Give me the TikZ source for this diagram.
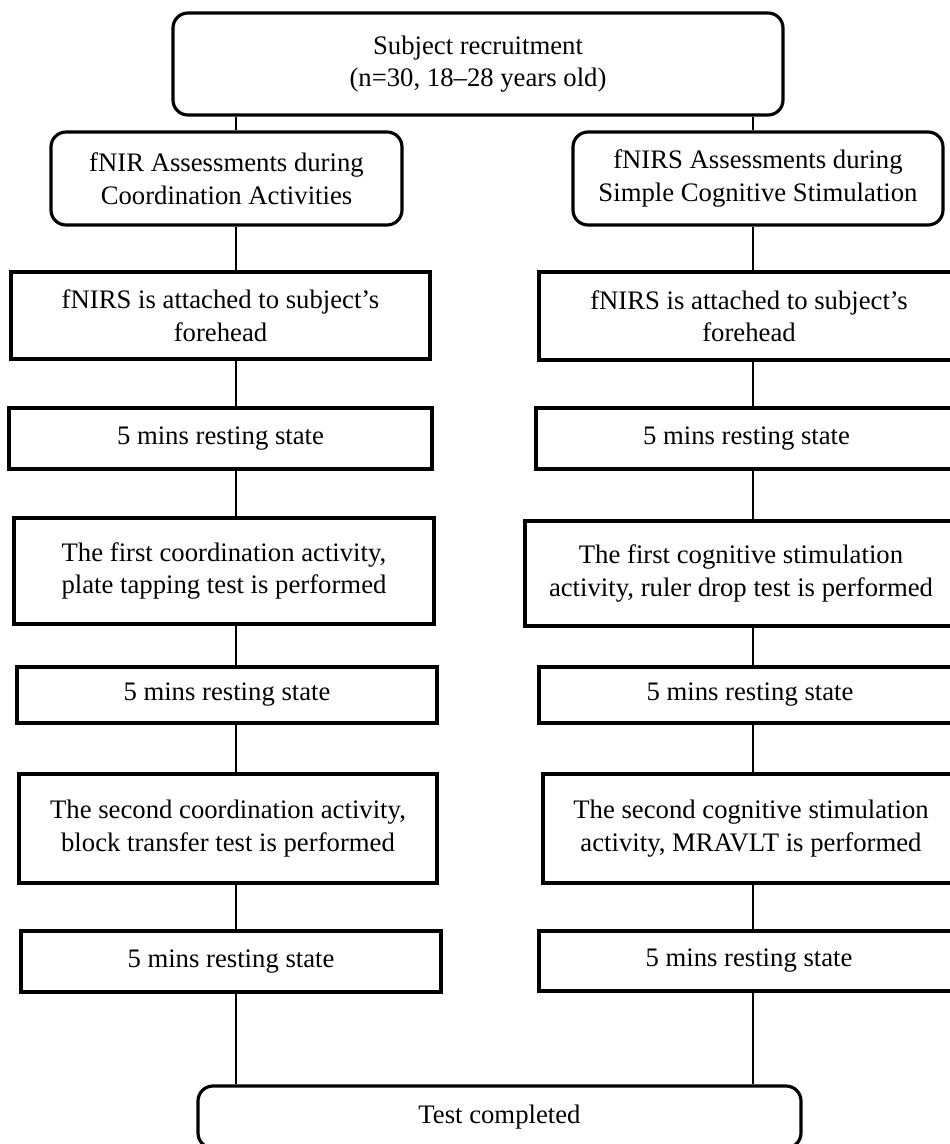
\documentclass[tikz,border=0pt]{standalone}
\usepackage{fontspec}
\setmainfont{Liberation Serif}
\usepackage{tikz}
\usetikzlibrary{positioning,calc}

\begin{document}
\begin{tikzpicture}[
  lnk/.style={line width=1.2pt},
  head/.style={rectangle,draw,line width=1.8pt,rounded corners=0.3cm,align=center,inner sep=0pt,
    font=\fontsize{15.2}{18.5}\selectfont},
  stepbox/.style={rectangle,draw,line width=1.8pt,align=center,inner sep=0pt,
    font=\fontsize{15.2}{18.5}\selectfont}
]
\useasboundingbox (0,0) rectangle (18.98,-22.88);
% column lines
\coordinate (colL) at (4.72,0);
\coordinate (colR) at (15.06,0);
% recruitment
\node[head,minimum width=12.2cm,minimum height=2.04cm] (top) at (9.56,-1.28)
  {Subject recruitment\\(n=30, 18–28 years old)};
% two assessments
\node[head,minimum width=7.02cm,minimum height=1.86cm] (L2) at (4.53,-3.57)
  {fNIR Assessments during\\Coordination Activities};
\node[head,minimum width=7.40cm,minimum height=1.86cm] (R2) at (15.16,-3.57)
  {fNIRS Assessments during\\Simple Cognitive Stimulation};
% left branch: coordination
\node[stepbox,minimum width=8.38cm,minimum height=1.74cm] (L3) at (4.41,-6.31)
  {fNIRS is attached to subject’s\\forehead};
\node[stepbox,minimum width=8.46cm,minimum height=1.22cm] (L4) at (4.41,-8.77)
  {5 mins resting state};
\node[stepbox,minimum width=8.40cm,minimum height=2.12cm] (L5) at (4.48,-11.42)
  {The first coordination activity,\\plate tapping test is performed};
\node[stepbox,minimum width=8.40cm,minimum height=1.12cm] (L6) at (4.54,-13.90)
  {5 mins resting state};
\node[stepbox,minimum width=8.36cm,minimum height=2.18cm] (L7) at (4.56,-16.57)
  {The second coordination activity,\\block transfer test is performed};
\node[stepbox,minimum width=8.40cm,minimum height=1.22cm] (L8) at (4.62,-19.23)
  {5 mins resting state};
% right branch: cognitive stimulation
\node[stepbox,minimum width=8.40cm,minimum height=1.76cm] (R3) at (14.98,-6.32)
  {fNIRS is attached to subject’s\\forehead};
\node[stepbox,minimum width=8.42cm,minimum height=1.22cm] (R4) at (14.93,-8.77)
  {5 mins resting state};
\node[stepbox,minimum width=8.64cm,minimum height=2.10cm] (R5) at (14.82,-11.47)
  {The first cognitive stimulation\\activity, ruler drop test is performed};
\node[stepbox,minimum width=8.44cm,minimum height=1.12cm] (R6) at (15.00,-13.90)
  {5 mins resting state};
\node[stepbox,minimum width=8.32cm,minimum height=2.18cm] (R7) at (15.02,-16.57)
  {The second cognitive stimulation\\activity, MRAVLT is performed};
\node[stepbox,minimum width=8.40cm,minimum height=1.20cm] (R8) at (14.98,-19.22)
  {5 mins resting state};
% end
\node[head,minimum width=12.06cm,minimum height=1.24cm] (done) at (9.99,-22.34)
  {Test completed};
% connectors, left
\draw[lnk] (top.south -| colL) -- (L2.north -| colL);
\draw[lnk] (L2.south -| colL) -- (L3.north -| colL);
\draw[lnk] (L3.south -| colL) -- (L4.north -| colL);
\draw[lnk] (L4.south -| colL) -- (L5.north -| colL);
\draw[lnk] (L5.south -| colL) -- (L6.north -| colL);
\draw[lnk] (L6.south -| colL) -- (L7.north -| colL);
\draw[lnk] (L7.south -| colL) -- (L8.north -| colL);
\draw[lnk] (L8.south -| colL) -- (done.north -| colL);
% connectors, right
\draw[lnk] (top.south -| colR) -- (R2.north -| colR);
\draw[lnk] (R2.south -| colR) -- (R3.north -| colR);
\draw[lnk] (R3.south -| colR) -- (R4.north -| colR);
\draw[lnk] (R4.south -| colR) -- (R5.north -| colR);
\draw[lnk] (R5.south -| colR) -- (R6.north -| colR);
\draw[lnk] (R6.south -| colR) -- (R7.north -| colR);
\draw[lnk] (R7.south -| colR) -- (R8.north -| colR);
\draw[lnk] (R8.south -| colR) -- (done.north -| colR);
\end{tikzpicture}
\end{document}
